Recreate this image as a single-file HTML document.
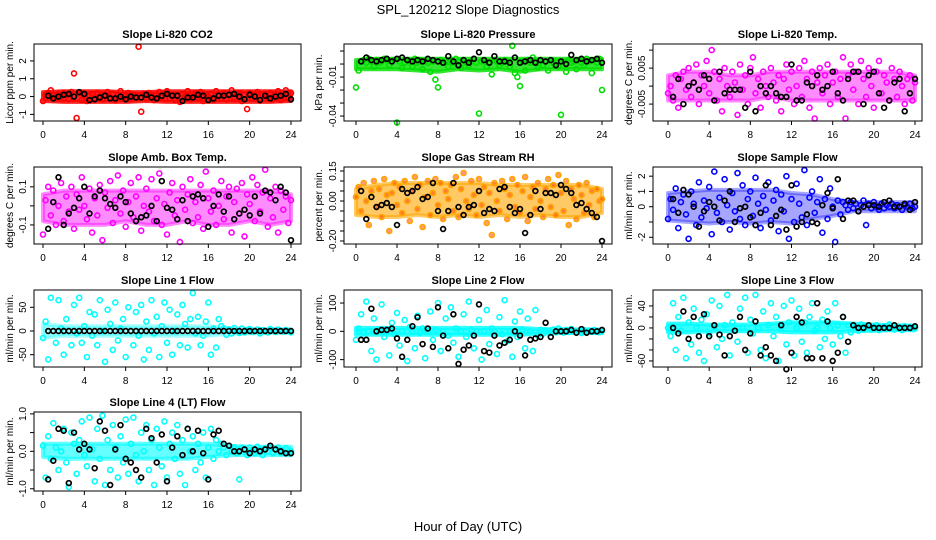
<!DOCTYPE html>
<html><head><meta charset="utf-8"><style>
body{margin:0;background:#fff;}
svg{display:block;font-family:"Liberation Sans",sans-serif;}
</style></head><body>
<svg id="c" width="936" height="540" viewBox="0 0 936 540">
<text x="468" y="14" text-anchor="middle" font-size="13">SPL_120212  Slope Diagnostics</text>
<text x="468" y="531" text-anchor="middle" font-size="13">Hour of Day (UTC)</text>
</svg>
<script>
const hours=[0,0.25,0.5,0.75,1,1.25,1.5,1.75,2,2.25,2.5,2.75,3,3.25,3.5,3.75,4,4.25,4.5,4.75,5,5.25,5.5,5.75,6,6.25,6.5,6.75,7,7.25,7.5,7.75,8,8.25,8.5,8.75,9,9.25,9.5,9.75,10,10.25,10.5,10.75,11,11.25,11.5,11.75,12,12.25,12.5,12.75,13,13.25,13.5,13.75,14,14.25,14.5,14.75,15,15.25,15.5,15.75,16,16.25,16.5,16.75,17,17.25,17.5,17.75,18,18.25,18.5,18.75,19,19.25,19.5,19.75,20,20.25,20.5,20.75,21,21.25,21.5,21.75,22,22.25,22.5,22.75,23,23.25,23.5,23.75,24];
const blackHours=[0.5,1,1.5,2,2.5,3,3.5,4,4.5,5,5.5,6,6.5,7,7.5,8,8.5,9,9.5,10,10.5,11,11.5,12,12.5,13,13.5,14,14.5,15,15.5,16,16.5,17,17.5,18,18.5,19,19.5,20,20.5,21,21.5,22,22.5,23,23.5,24];
const bandHours=[0,2,4,6,8,10,12,14,16,18,20,22,24];
const xTicks=[0,4,8,12,16,20,24];
const c1=[-0.25,0.1,0.2,0.35,0.05,-0.1,0.15,0.0,0.2,0.1,-0.15,0.25,1.3,-1.2,0.2,-0.2,0.1,-0.25,0.05,0.15,-0.1,0.2,0.0,-0.15,0.1,0.25,-0.05,0.15,-0.2,0.1,0.3,-0.1,0.05,0.2,-0.15,0.1,0.0,2.8,-0.85,0.15,-0.1,0.2,0.05,-0.2,0.1,0.25,-0.05,0.15,0.3,-0.1,0.1,-0.2,0.05,-0.3,0.15,0.0,0.3,-0.15,0.1,0.2,-0.05,0.25,-0.25,0.1,0.0,0.15,-0.2,0.3,0.05,-0.1,0.2,-0.15,0.1,0.35,-0.05,0.15,0.2,-0.25,0.1,-0.7,0.2,-0.1,0.05,0.25,-0.2,0.1,0.15,-0.05,0.2,-0.15,0.1,0.3,-0.2,0.05,0.35,-0.1,0.2];
const b1=[0.05,-0.1,0.0,0.1,0.15,0.0,0.25,0.15,-0.2,-0.15,-0.05,0.05,-0.1,-0.1,0.0,-0.15,0.0,-0.05,-0.05,0.1,-0.05,-0.1,0.05,0.15,0.05,0.05,-0.25,-0.05,-0.05,0.1,0.05,-0.2,-0.1,0.05,0.05,0.1,0.15,0.0,-0.15,0.1,0.0,-0.2,0.05,-0.1,0.0,0.05,0.15,-0.15];
const lo1=[-0.25,-0.3,-0.3,-0.3,-0.3,-0.25,-0.3,-0.3,-0.3,-0.3,-0.3,-0.3,-0.25], hi1=[0.25,0.3,0.3,0.3,0.25,0.25,0.3,0.3,0.3,0.3,0.3,0.3,0.3];
const c2=[-0.018,-0.005,0.002,0.003,0.001,0.004,0.002,-0.002,0.003,0.001,0.002,0.004,0.003,-0.001,0.002,0.003,-0.045,0.002,-0.003,0.001,0.003,0.002,-0.002,0.004,0.001,0.003,-0.004,0.002,0.001,-0.006,0.002,-0.012,-0.018,0.003,0.001,0.002,-0.002,0.003,0.001,0.004,0.002,-0.003,0.003,0.001,-0.001,0.002,0.004,0.001,-0.038,0.002,0.003,-0.002,0.001,-0.008,0.003,0.002,-0.001,0.001,0.003,0.002,-0.002,0.014,-0.007,-0.01,-0.017,0.002,-0.005,0.003,0.001,0.005,0.002,-0.003,0.003,-0.001,0.002,-0.005,0.003,0.001,0.002,-0.002,-0.039,0.002,-0.006,0.003,0.001,0.002,-0.004,0.003,0.001,-0.001,0.004,0.002,-0.007,0.003,0.001,0.004,-0.020];
const b2=[0.002,0.005,0.003,0.002,0.003,0.004,0.002,0.004,0.005,0.003,0.002,0.003,0.002,0.004,0.003,0.002,0.001,0.006,0.002,-0.001,0.003,0.001,0.004,0.009,0.003,0.001,0.006,0.002,0.002,0.001,0.005,0.001,0.002,0.003,0.001,0.003,0.002,0.003,-0.001,0.002,0.0,0.007,0.003,0.004,0.002,0.003,0.004,0.001];
const lo2=[-0.004,-0.004,-0.004,-0.005,-0.006,-0.004,-0.005,-0.004,-0.006,-0.004,-0.004,-0.004,-0.004], hi2=[0.003,0.004,0.004,0.004,0.004,0.004,0.004,0.004,0.004,0.004,0.004,0.004,0.004];
const c3=[-0.002,0.0,-0.004,0.003,-0.006,0.002,0.004,-0.001,0.005,-0.003,0.001,0.006,-0.005,0.003,0.0,0.007,-0.002,0.01,0.004,-0.004,0.002,-0.007,0.005,0.0,-0.003,0.004,0.001,-0.008,0.006,-0.001,0.003,-0.005,0.005,0.008,-0.002,0.002,-0.006,0.004,0.0,-0.003,0.005,0.001,-0.004,0.003,-0.007,0.002,0.006,-0.001,0.004,-0.005,0.0,0.005,-0.003,0.007,0.002,-0.006,0.004,-0.009,0.001,0.005,-0.002,0.003,0.006,-0.005,0.001,0.004,-0.003,0.002,0.008,-0.009,0.003,0.006,-0.001,0.004,-0.005,0.007,0.002,-0.003,0.005,0.0,-0.006,0.004,0.007,-0.002,0.003,0.001,-0.004,0.005,0.002,-0.003,0.004,0.0,-0.005,0.002,0.003,-0.004,0.001];
const b3=[-0.003,0.002,-0.005,0.0,0.001,-0.001,0.003,0.002,-0.004,0.004,-0.002,-0.001,-0.001,-0.001,-0.006,0.004,-0.007,0.0,-0.002,0.0,-0.002,-0.003,-0.003,0.006,-0.004,-0.004,0.001,0.0,0.003,-0.001,0.0,0.004,-0.002,-0.004,0.002,0.004,0.004,-0.005,0.003,0.004,-0.002,-0.006,-0.004,0.001,0.002,-0.007,-0.002,0.002];
const lo3=[-0.004,-0.004,-0.004,-0.004,-0.004,-0.003,-0.004,-0.004,-0.004,-0.004,-0.004,-0.004,-0.004], hi3=[0.003,0.004,0.004,0.003,0.003,0.004,0.004,0.004,0.004,0.004,0.004,0.004,0.003];
const c4=[-0.15,0.03,0.1,-0.05,0.08,-0.1,0.0,0.12,-0.08,0.05,-0.03,0.1,-0.12,0.06,-0.02,0.15,0.0,-0.07,0.09,-0.14,0.04,-0.05,0.11,-0.18,0.07,-0.01,0.13,-0.09,0.03,0.16,-0.04,0.08,-0.11,0.02,0.12,-0.06,0.05,0.15,-0.13,0.0,0.09,-0.03,0.14,-0.08,0.04,0.17,-0.1,0.01,-0.15,0.07,0.12,-0.05,0.03,-0.19,0.1,-0.02,0.06,0.14,-0.09,0.02,-0.06,0.11,-0.12,0.18,0.04,-0.03,0.08,-0.1,0.0,0.13,-0.07,0.05,0.1,-0.14,0.02,0.09,-0.04,0.12,-0.16,0.06,0.01,0.15,-0.08,0.11,-0.03,0.07,0.19,-0.11,0.04,-0.06,0.1,-0.14,0.08,-0.02,0.05,-0.09,0.03];
const b4=[-0.12,0.02,0.15,-0.1,-0.04,-0.01,0.04,0.1,-0.04,0.05,0.08,0.04,0.01,-0.01,0.05,0.02,-0.04,-0.08,-0.06,-0.05,0.0,-0.08,0.13,-0.01,-0.02,-0.07,0.03,-0.08,0.05,0.06,0.04,-0.11,0.0,0.06,-0.03,0.05,-0.07,-0.04,-0.02,-0.05,0.05,-0.04,0.08,0.07,0.03,0.1,0.07,-0.18];
const lo4=[-0.08,-0.1,-0.1,-0.1,-0.08,-0.1,-0.1,-0.08,-0.1,-0.1,-0.08,-0.1,-0.08], hi4=[0.06,0.08,0.08,0.08,0.08,0.08,0.08,0.08,0.08,0.08,0.08,0.08,0.06];
const c5=[0.02,0.07,-0.05,0.09,0.0,-0.12,0.05,0.1,-0.03,0.06,-0.08,0.11,0.03,-0.15,0.04,0.09,-0.02,0.07,-0.06,0.1,0.0,-0.1,0.05,0.12,-0.04,0.08,-0.13,0.02,0.1,-0.07,0.04,0.11,-0.02,0.09,-0.09,0.05,0.01,0.08,-0.05,0.12,-0.08,0.06,0.14,0.0,-0.04,0.1,0.03,-0.07,0.11,-0.02,0.07,-0.11,0.04,-0.17,0.09,0.0,-0.05,0.1,0.06,-0.09,0.03,0.11,-0.03,0.08,-0.06,0.05,0.12,-0.1,0.02,0.07,-0.04,0.09,0.0,-0.08,0.06,0.11,-0.03,0.08,-0.07,0.13,0.04,-0.05,0.1,-0.12,0.06,0.01,-0.09,0.08,0.03,-0.06,0.09,-0.02,0.05,-0.08,0.06,0.0,0.01];
const b5=[0.05,-0.09,0.02,-0.03,-0.02,-0.01,-0.03,-0.12,0.06,0.04,0.05,0.07,0.01,0.02,0.09,-0.05,-0.14,-0.05,0.09,-0.03,-0.07,-0.03,-0.02,0.05,-0.06,-0.04,-0.05,0.06,0.07,-0.03,-0.06,-0.04,-0.16,-0.07,0.05,-0.04,0.04,0.04,0.03,0.08,0.06,0.04,-0.02,-0.01,-0.04,-0.06,-0.08,-0.2];
const lo5=[-0.07,-0.08,-0.08,-0.07,-0.08,-0.07,-0.08,-0.07,-0.08,-0.07,-0.08,-0.08,-0.06], hi5=[0.06,0.08,0.09,0.09,0.09,0.09,0.09,0.08,0.08,0.08,0.08,0.08,0.06];
const c6=[-0.8,0.5,-0.2,1.2,-1.4,0.3,0.8,-0.5,-2.1,1.0,0.2,-1.2,1.6,-0.7,0.4,-0.1,1.3,-1.8,2.3,-0.4,0.6,-1.0,1.8,0.1,-1.5,0.9,-0.3,2.2,-0.8,1.4,-1.2,0.5,1.0,-0.6,1.9,0.2,-1.4,0.7,-0.2,1.6,-0.9,0.4,1.1,-1.6,0.8,-0.3,2.0,-2.1,0.5,-1.0,1.5,0.2,-0.7,2.4,-1.2,0.6,1.0,-0.4,0.3,1.8,-1.7,0.5,-0.8,1.2,0.0,-2.3,0.4,-0.5,0.3,0.1,-0.2,0.3,-0.1,0.2,-0.3,0.1,0.4,-1.2,0.2,-0.1,0.3,0.0,-0.2,0.2,-0.1,0.1,0.0,0.2,-0.1,0.1,0.0,-0.2,0.1,0.0,0.2,-0.1,0.0];
const b6=[0.5,-0.4,1.1,0.8,0.0,-1.3,-0.3,0.3,0.0,-0.9,0.4,1.0,-1.0,-0.1,0.0,-0.7,-1.2,-0.4,1.4,-1.2,-0.6,-0.2,-1.5,1.4,-1.3,-1.0,-0.5,-1.0,-1.1,0.1,0.9,-0.1,1.8,-0.8,0.4,0.4,-0.3,0.0,0.1,0.1,0.0,0.3,0.4,0.0,0.0,0.2,-0.2,0.3];
const lo6=[-0.9,-1.0,-1.1,-1.0,-1.1,-1.0,-1.1,-0.8,-0.6,-0.3,-0.3,-0.3,-0.3], hi6=[0.9,1.0,1.1,1.1,1.1,1.1,0.9,0.8,0.5,0.3,0.3,0.3,0.3];
const c7=[-15,20,-60,70,0,-25,65,5,-50,25,0,-30,55,-5,70,-25,10,-55,40,-10,35,-30,65,0,-65,45,15,-40,60,-20,5,25,-55,50,0,-30,40,-10,55,-60,20,-40,65,-5,30,-55,10,60,-25,45,-50,0,35,-30,55,15,-35,25,80,-5,30,-30,-10,20,60,-50,5,-35,25,10,5,-8,3,-5,6,0,-4,5,-3,2,4,-2,0,3,-5,2,0,-3,4,1,-2,3,0,-1,2,0,-3];
const b7=[0,0,0,0,0,0,0,0,0,0,0,0,0,0,0,0,0,0,0,0,0,0,0,0,0,0,0,0,0,0,0,0,0,0,0,0,0,0,0,0,0,0,0,0,0,0,0,0];
const lo7=[-15,-10,-10,-10,-10,-10,-10,-10,-10,-6,-5,-4,-4], hi7=[15,10,10,10,10,10,10,10,10,6,5,4,4];
const c8=[-30,10,60,-5,105,0,-70,45,-100,5,95,-20,0,-85,30,-10,65,-50,0,40,-105,15,0,-60,55,-5,10,-95,0,70,-30,5,100,-70,0,45,-15,85,-40,10,-90,0,60,-20,105,5,-60,0,40,-100,0,75,-45,10,0,-80,50,-10,110,-35,0,-90,35,-20,70,5,-60,45,0,-70,75,-15,5,-8,3,0,-5,6,-3,10,0,-4,5,-2,8,0,-3,2,-6,4,0,3,-2,5,0,-3,2];
const b8=[-30,-30,80,0,5,5,10,-25,-90,-30,18,50,-45,10,-55,85,-15,-60,60,-115,-65,-50,-15,95,-70,-75,-15,-50,-40,-30,0,-15,-85,-30,-25,-20,30,-20,0,0,0,5,-5,8,-5,0,0,5];
const lo8=[-12,-12,-12,-12,-12,-12,-12,-12,-12,-8,-6,-6,-6], hi8=[12,12,12,12,12,12,12,12,12,8,8,6,6];
const c9=[0,-15,45,-40,20,-5,55,-55,10,-30,35,0,-45,15,-60,25,-10,50,0,-35,40,-20,5,60,-50,10,-5,-25,35,0,55,-45,15,-10,60,0,-40,30,-55,5,45,-15,20,-60,0,40,-30,10,50,-50,0,35,-25,10,-45,20,45,-5,0,-35,15,-20,30,0,-30,45,5,-15,20,-45,5,-8,3,0,-5,6,-2,4,0,-3,2,5,-4,0,3,-2,6,0,-3,2,0,-4,3,0,2,-2,0];
const b9=[0,-10,30,-20,20,-15,25,-15,5,-12,-50,-15,-5,20,-40,-10,12,-50,-35,-50,-60,5,-75,-45,20,10,-55,-55,45,-55,12,-60,-45,20,-25,5,0,0,5,0,0,0,0,5,0,0,0,3];
const lo9=[-8,-8,-6,-6,-6,-6,-8,-8,-8,-6,-5,-4,-4], hi9=[8,8,6,6,6,8,10,10,10,8,6,5,4];
const c10=[0.15,-0.7,0.4,-0.2,0.75,0.1,-0.5,0.0,0.6,-0.3,-0.95,0.5,0.2,-0.6,0.3,0.8,-0.1,-0.4,0.9,0.05,-0.8,0.6,-0.2,0.95,-0.9,0.3,-0.5,0.7,0.1,-0.7,0.4,-0.3,0.85,-0.6,0.2,0.9,-0.1,-0.8,0.5,0.0,0.7,-0.5,0.3,-0.9,0.6,0.1,-0.4,0.8,-0.7,0.2,0.5,-0.2,0.7,-0.6,0.3,-0.9,0.6,0.0,0.4,-0.5,0.2,-0.3,0.5,-0.7,0.1,0.6,-0.2,0.3,0.0,0.2,0.1,-0.1,0.15,0.0,0.1,-0.05,-0.75,0.1,0.05,-0.1,0.1,0.0,-0.05,0.12,0.05,-0.1,0.08,0.0,0.1,-0.05,0.05,0.1,-0.05,0.0,0.08,-0.05,0.0];
const b10=[-0.75,-0.25,0.6,0.55,-0.85,0.5,0.05,0.2,0.05,-0.45,0.8,0.55,-0.9,0.05,0.7,-0.2,-0.3,-0.5,-0.7,0.6,0.35,-0.3,0.45,-0.8,0.1,0.4,-0.1,0.6,0.0,0.55,-0.05,-0.75,0.45,0.55,0.2,0.15,0.0,0.0,0.05,-0.05,0.05,0.0,0.05,0.15,0.05,0.0,-0.05,-0.05];
const lo10=[-0.15,-0.2,-0.2,-0.2,-0.2,-0.2,-0.2,-0.2,-0.15,-0.1,-0.1,-0.1,-0.1], hi10=[0.2,0.2,0.2,0.2,0.2,0.2,0.2,0.2,0.2,0.15,0.12,0.12,0.12];
const yTicks1=[-1,0,1,2], yLab1=["-1","0","1","2"];
const yTicks2=[0.01,0,-0.01,-0.02,-0.03,-0.04], yLab2=["","","-0.01","","","-0.04"];
const yTicks3=[0.01,0.005,0,-0.005], yLab3=["","0.005","","-0.005"];
const yTicks4=[0.1,0,-0.1], yLab4=["0.1","","-0.1"];
const yTicks5=[0.15,0.10,0.05,0,-0.05,-0.10,-0.15,-0.20], yLab5=["0.15","","","0.00","","","","-0.20"];
const yTicks6=[2,1,0,-1,-2], yLab6=["2","1","0","","-2"];
const yTicks7=[50,0,-50], yLab7=["50","0","-50"];
const yTicks8=[100,0,-100], yLab8=["100","0","-100"];
const yTicks9=[40,20,0,-20,-40,-60], yLab9=["40","","0","","","-60"];
const yTicks10=[1,0.5,0,-0.5,-1], yLab10=["1.0","","0.0","","-1.0"];

const NS="http://www.w3.org/2000/svg";
const svg=document.getElementById('c');
function mk(tag,attrs,parent){const e=document.createElementNS(NS,tag);for(const k in attrs)e.setAttribute(k,attrs[k]);(parent||svg).appendChild(e);return e;}
const cols=[{l:34,r:301,x0:43,x24:291,lab:9},{l:344,r:612,x0:356,x24:602,lab:318},{l:653,r:922,x0:668,x24:915,lab:628}];
const rows=[{t:44,b:121},{t:167,b:244},{t:290,b:367},{t:412,b:491}];
const panels=[
 {c:0,r:0,title:"Slope Li-820 CO2",yl:"Licor ppm per min.",vTop:2.95,vBot:-1.37,col:"#ff0000",cv:c1,bv:b1,lo:lo1,hi:hi1,op:0.85,ticks:yTicks1,labs:yLab1},
 {c:1,r:0,title:"Slope Li-820 Pressure",yl:"kPa per min.",vTop:0.0154,vBot:-0.0438,col:"#00dd00",cv:c2,bv:b2,lo:lo2,hi:hi2,op:0.8,ticks:yTicks2,labs:yLab2},
 {c:2,r:0,title:"Slope Li-820 Temp.",yl:"degrees C per min.",vTop:0.0117,vBot:-0.0097,col:"#ff00ff",cv:c3,bv:b3,lo:lo3,hi:hi3,op:0.45,ticks:yTicks3,labs:yLab3},
 {c:0,r:1,title:"Slope Amb. Box Temp.",yl:"degrees C per min.",vTop:0.204,vBot:-0.2,col:"#ff00ff",cv:c4,bv:b4,lo:lo4,hi:hi4,op:0.45,ticks:yTicks4,labs:yLab4},
 {c:1,r:1,title:"Slope Gas Stream RH",yl:"percent per min.",vTop:0.17,vBot:-0.215,col:"#ffa500",cv:c5,bv:b5,lo:lo5,hi:hi5,op:0.6,ticks:yTicks5,labs:yLab5},
 {c:2,r:1,title:"Slope Sample Flow",yl:"ml/min per min.",vTop:2.6,vBot:-2.44,col:"#0000ff",cv:c6,bv:b6,lo:lo6,hi:hi6,op:0.35,ticks:yTicks6,labs:yLab6},
 {c:0,r:2,title:"Slope Line 1 Flow",yl:"ml/min per min.",vTop:86.5,vBot:-76,col:"#00ffff",cv:c7,bv:b7,lo:lo7,hi:hi7,op:0.35,ticks:yTicks7,labs:yLab7},
 {c:1,r:2,title:"Slope Line 2 Flow",yl:"ml/min per min.",vTop:146,vBot:-126,col:"#00ffff",cv:c8,bv:b8,lo:lo8,hi:hi8,op:0.8,ticks:yTicks8,labs:yLab8},
 {c:2,r:2,title:"Slope Line 3 Flow",yl:"ml/min per min.",vTop:69,vBot:-71,col:"#00ffff",cv:c9,bv:b9,lo:lo9,hi:hi9,op:0.8,ticks:yTicks9,labs:yLab9},
 {c:0,r:3,title:"Slope Line 4 (LT) Flow",yl:"ml/min per min.",vTop:1.05,vBot:-1.06,col:"#00ffff",cv:c10,bv:b10,lo:lo10,hi:hi10,op:0.6,ticks:yTicks10,labs:yLab10}
];
panels.forEach((p,pi)=>{
 const C=cols[p.c],R=rows[p.r];
 const sx=h=>C.x0+(h/24)*(C.x24-C.x0);
 const sy=v=>R.t+(p.vTop-v)/(p.vTop-p.vBot)*(R.b-R.t);
 const g=mk('g',{});
 
 
 const t=mk('text',{x:(C.l+C.r)/2,y:R.t-6,'text-anchor':'middle','font-size':'11','font-weight':'bold'},g);
 t.textContent=p.title;
 
 
 const pts=[];
 p.hi.forEach((v,i)=>pts.push(sx(bandHours[i]).toFixed(1)+','+sy(v).toFixed(1)));
 for(let i=p.lo.length-1;i>=0;i--)pts.push(sx(bandHours[i]).toFixed(1)+','+sy(p.lo[i]).toFixed(1));
 const band=mk('polygon',{points:pts.join(' '),fill:p.col,'fill-opacity':p.op,stroke:p.col,'stroke-opacity':p.op,'stroke-width':'4','stroke-linejoin':'round'},g);
 
 
 const cg=mk('g',{fill:'none',stroke:p.col,'stroke-width':'1.6'},g);
 
 
 p.cv.forEach((v,i)=>{if(i>=hours.length)return;const e=mk('circle',{cx:sx(hours[i]).toFixed(1),cy:sy(v).toFixed(1),r:2.5},cg);
  if(p.col==="#ffa500"){e.setAttribute('fill','#ff3300');e.setAttribute('fill-opacity','0.5');}
  
  });
 const bg=mk('g',{fill:'none',stroke:'#000','stroke-width':'1.7'},g);
 
 
 p.bv.forEach((v,i)=>{if(i>=blackHours.length)return;const e=mk('circle',{cx:sx(blackHours[i]).toFixed(1),cy:sy(v).toFixed(1),r:2.4},bg);
  
  });
 const box=mk('rect',{x:C.l,y:R.t,width:C.r-C.l,height:R.b-R.t,fill:'none',stroke:'#000','stroke-width':'1'},g);
 
 
 const ax=mk('g',{stroke:'#000','stroke-width':'1'},g);
 
 
 mk('line',{x1:sx(0),x2:sx(24),y1:R.b,y2:R.b},ax);
 xTicks.forEach(h=>{mk('line',{x1:sx(h),x2:sx(h),y1:R.b,y2:R.b+4},ax);
  const tx=mk('text',{x:sx(h),y:R.b+17,'text-anchor':'middle','font-size':'10',stroke:'none'},ax);tx.textContent=String(h);
  
  });
 const ay=mk('g',{stroke:'#000','stroke-width':'1'},g);
 
 
 const ys=p.ticks.map(sy);
 mk('line',{x1:C.l,x2:C.l,y1:Math.min(...ys),y2:Math.max(...ys)},ay);
 p.ticks.forEach((v,i)=>{const y=sy(v);mk('line',{x1:C.l-4,x2:C.l,y1:y,y2:y},ay);
  if(p.labs[i]){const lx=C.l-8;const tx=mk('text',{x:lx,y:y,'text-anchor':'middle','font-size':'10',stroke:'none',transform:`rotate(-90 ${lx} ${y})`},ay);tx.textContent=p.labs[i];
   
   }});
 const cy=(R.t+R.b)/2, lx=C.lab+4;
 const yl=mk('text',{x:lx,y:cy,'text-anchor':'middle','font-size':'10',transform:`rotate(-90 ${lx} ${cy})`},g);
 yl.textContent=p.yl;
 
 
});
</script>
</body></html>
